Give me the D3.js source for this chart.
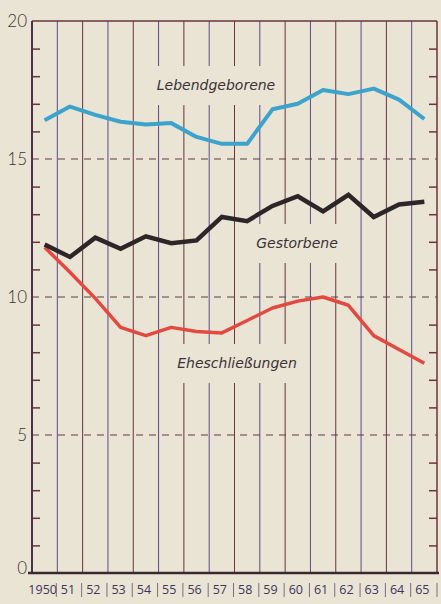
<!DOCTYPE html>
<html>
<head>
<meta charset="utf-8">
<script src="https://cdn.jsdelivr.net/npm/d3@7"></script>
<style>
  html, body { margin: 0; padding: 0; background: #eae4d5; }
  svg { display: block; }
</style>
</head>
<body>
<div id="chart"></div>
<script>
// values per 1000 inhabitants
var years = ['1950', '51', '52', '53', '54', '55', '56', '57', '58', '59', '60', '61', '62', '63', '64', '65'];
var births = [16.4, 16.9, 16.6, 16.35, 16.25, 16.3, 15.8, 15.55, 15.55, 16.8, 17.0, 17.5, 17.35, 17.55, 17.15, 16.45];
var deaths = [11.9, 11.45, 12.15, 11.75, 12.2, 11.95, 12.05, 12.9, 12.75, 13.3, 13.65, 13.1, 13.7, 12.9, 13.35, 13.45];
var marriages = [11.8, 10.9, 9.95, 8.9, 8.6, 8.9, 8.75, 8.7, 9.15, 9.6, 9.85, 10.0, 9.7, 8.6, 8.1, 7.6];
var majorTicks = [0, 5, 10, 15, 20];
var minorTicks = [1, 2, 3, 4, 6, 7, 8, 9, 11, 12, 13, 14, 16, 17, 18, 19];

var width = 441, height = 604;
var plotLeft = 32, plotRight = 437, plotTop = 21, plotBottom = 573;
var bg = '#eae4d5';
var maroon = '#6b3340';
var purple = '#5a4a8a';
var ink = '#3a3238';

window.onload = function() {

    var svg = d3.select('#chart').append('svg')
        .attr('width', width)
        .attr('height', height);

    var x = d3.scaleBand().domain(years).range([plotLeft, plotRight]);
    var y = d3.scaleLinear().domain([0, 20]).range([plotBottom, plotTop]);
    var cx = function(d) { return x(d) + x.bandwidth() / 2; };

    // vertical column lines
    svg.append('g').selectAll('line')
        .data(years.slice(1))
        .join('line')
        .attr('x1', function(d) { return x(d); })
        .attr('x2', function(d) { return x(d); })
        .attr('y1', y(20))
        .attr('y2', y(0))
        .attr('stroke', function(d, i) { return i % 2 ? maroon : purple; })
        .attr('stroke-width', 1);

    // dashed gridlines at 5, 10, 15
    svg.append('g').selectAll('line')
        .data([5, 10, 15])
        .join('line')
        .attr('x1', plotLeft)
        .attr('x2', plotRight)
        .attr('y1', function(d) { return y(d); })
        .attr('y2', function(d) { return y(d); })
        .attr('stroke', '#5e3a48')
        .attr('stroke-width', 1.2)
        .attr('stroke-dasharray', '7,6');

    // minor ticks, left and right
    var leftAxis = svg.append('g')
        .attr('transform', 'translate(' + plotLeft + ',0)')
        .call(d3.axisRight(y).tickValues(minorTicks).tickSize(8).tickFormat(''));
    var rightAxis = svg.append('g')
        .attr('transform', 'translate(' + plotRight + ',0)')
        .call(d3.axisLeft(y).tickValues(minorTicks).tickSize(8).tickFormat(''));
    [leftAxis, rightAxis].forEach(function(a) {
        a.select('.domain').remove();
        a.selectAll('line').attr('stroke', maroon).attr('stroke-width', 1.5);
    });

    // frame
    svg.append('line')
        .attr('x1', plotLeft).attr('x2', plotRight)
        .attr('y1', y(20)).attr('y2', y(20))
        .attr('stroke', maroon).attr('stroke-width', 1.5);
    svg.append('line')
        .attr('x1', plotLeft).attr('x2', plotLeft)
        .attr('y1', y(20)).attr('y2', y(0))
        .attr('stroke', '#4a3048').attr('stroke-width', 2);
    svg.append('line')
        .attr('x1', plotRight).attr('x2', plotRight)
        .attr('y1', y(20)).attr('y2', y(0))
        .attr('stroke', maroon).attr('stroke-width', 1.5);
    svg.append('line')
        .attr('x1', plotLeft - 4).attr('x2', plotRight + 2)
        .attr('y1', y(0)).attr('y2', y(0))
        .attr('stroke', '#3a2a30').attr('stroke-width', 2.5);

    // y labels
    svg.append('g').selectAll('text')
        .data(majorTicks)
        .join('text')
        .attr('x', 27)
        .attr('y', function(d) { return d === 0 ? y(d) - 5 : y(d); })
        .attr('dy', '0.35em')
        .attr('text-anchor', 'end')
        .attr('font-family', 'Lato, sans-serif')
        .attr('font-weight', 300)
        .attr('font-size', 17)
        .attr('fill', '#3a3436')
        .text(function(d) { return d; });

    // x labels with separators
    svg.append('g').selectAll('text')
        .data(years)
        .join('text')
        .attr('x', function(d) { return cx(d) - 2; })
        .attr('y', 594)
        .attr('text-anchor', 'middle')
        .attr('font-family', 'Open Sans, sans-serif')
        .attr('font-size', 12.5)
        .attr('fill', '#3b3560')
        .text(function(d) { return d; });
    svg.append('g').selectAll('line')
        .data(years.slice(1).concat(['end']))
        .join('line')
        .attr('x1', function(d) { return d === 'end' ? plotRight : x(d) - 1; })
        .attr('x2', function(d) { return d === 'end' ? plotRight : x(d) - 1; })
        .attr('y1', 583)
        .attr('y2', 597)
        .attr('stroke', '#6a6080')
        .attr('stroke-width', 0.9);

    // series labels, masking the gridlines behind them
    var labels = [
        { text: 'Lebendgeborene', x: 216, y: 85 },
        { text: 'Gestorbene', x: 297, y: 243 },
        { text: 'Eheschließungen', x: 237, y: 363 }
    ];
    var lg = svg.append('g');
    labels.forEach(function(l) {
        var t = lg.append('text')
            .attr('x', l.x)
            .attr('y', l.y)
            .attr('dy', '0.35em')
            .attr('text-anchor', 'middle')
            .attr('font-family', 'DejaVu Sans, sans-serif')
            .attr('font-style', 'italic')
            .attr('font-size', 14)
            .attr('fill', ink)
            .text(l.text);
        var b = t.node().getBBox();
        lg.insert('rect', 'text')
            .attr('x', b.x - 5)
            .attr('y', l.y - 19)
            .attr('width', b.width + 10)
            .attr('height', 39)
            .attr('fill', bg);
    });

    // series lines
    var line = d3.line()
        .x(function(d, i) { return cx(years[i]); })
        .y(function(d) { return y(d); });

    svg.append('path')
        .attr('d', line(marriages))
        .attr('fill', 'none')
        .attr('stroke', '#e3493f')
        .attr('stroke-width', 3.5)
        .attr('stroke-linejoin', 'round');

    svg.append('path')
        .attr('d', line(deaths))
        .attr('fill', 'none')
        .attr('stroke', '#2c2628')
        .attr('stroke-width', 4.5)
        .attr('stroke-linejoin', 'miter');

    svg.append('path')
        .attr('d', line(births))
        .attr('fill', 'none')
        .attr('stroke', '#3ca3cc')
        .attr('stroke-width', 4)
        .attr('stroke-linejoin', 'round');
}
</script>
</body>
</html>
